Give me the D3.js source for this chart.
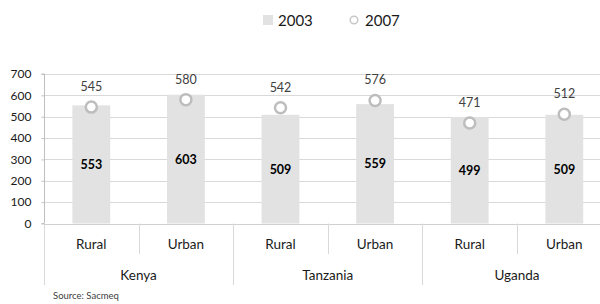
<!DOCTYPE html>
<html>
<head>
<meta charset="utf-8">
<script src="https://cdn.jsdelivr.net/npm/d3@7/dist/d3.min.js"></script>
<style>
  body { margin: 0; background: #fff; }
  svg text { font-family: Lato, 'Open Sans', sans-serif; fill: #404040; }
</style>
</head>
<body>
<div id="chart"></div>
<script>
// data
var countries = ['Kenya', 'Tanzania', 'Uganda'];
var areas = ['Rural', 'Urban'];
var values2003 = [553, 603, 509, 559, 499, 509];
var values2007 = [545, 580, 542, 576, 471, 512];
var yTicks = [0, 100, 200, 300, 400, 500, 600, 700];
var seriesNames = ['2003', '2007'];

function drawChart (id) {
  var width = 600, height = 304;
  var left = 44, zeroY = 223.5, topY = 74;
  var slot = 94.6;

  var svg = d3.select('#' + id).append('svg')
    .attr('width', width)
    .attr('height', height);

  // one entry per bar
  var rows = [];
  countries.forEach(function (c, i) {
    areas.forEach(function (a, j) {
      var k = i * areas.length + j;
      rows.push({ key: c + '|' + a, country: c, area: a, v03: values2003[k], v07: values2007[k] });
    });
  });

  var x = d3.scaleBand()
    .domain(rows.map(function (d) { return d.key; }))
    .range([left, left + slot * rows.length])
    .paddingInner(0.6)
    .paddingOuter(0.3);
  var y = d3.scaleLinear().domain([0, 700]).range([zeroY, topY]);

  // gridlines
  svg.append('g').selectAll('line')
    .data(yTicks.filter(function (t) { return t > 0; }))
    .enter().append('line')
    .attr('x1', left).attr('x2', width)
    .attr('y1', function (d) { return Math.round(y(d)) + 0.5; })
    .attr('y2', function (d) { return Math.round(y(d)) + 0.5; })
    .attr('stroke', '#d9d9d9');

  // y axis
  var yAxis = d3.axisLeft(y).tickValues(yTicks).tickSize(3).tickPadding(10);
  var gy = svg.append('g')
    .attr('transform', 'translate(' + (left + 0.5) + ',0)')
    .call(yAxis);
  gy.select('.domain').attr('stroke', '#bfbfbf').attr('d', 'M-3,' + topY + 'H0V' + zeroY + 'H-3');
  gy.selectAll('.tick line').attr('stroke', '#bfbfbf');
  gy.selectAll('.tick text')
    .style('font-size', '12px')
    .style('fill', '#1a1a1a')
    .style('font-family', 'Lato, sans-serif');

  // bars 2003
  svg.append('g').selectAll('rect')
    .data(rows)
    .enter().append('rect')
    .attr('x', function (d) { return x(d.key); })
    .attr('width', x.bandwidth())
    .attr('y', function (d) { return y(d.v03); })
    .attr('height', function (d) { return zeroY - y(d.v03); })
    .attr('fill', '#e2e2e2');

  // bar labels
  svg.append('g').selectAll('text')
    .data(rows)
    .enter().append('text')
    .attr('x', function (d) { return x(d.key) + x.bandwidth() / 2; })
    .attr('y', function (d) { return y(d.v03 / 2) + 4.5; })
    .attr('text-anchor', 'middle')
    .style('font-size', '12.5px')
    .style('font-weight', 'bold')
    .style('fill', '#000')
    .text(function (d) { return d.v03; });

  // category axis
  svg.append('line')
    .attr('x1', left).attr('x2', width)
    .attr('y1', Math.round(zeroY) + 0.5).attr('y2', Math.round(zeroY) + 0.5)
    .attr('stroke', '#d0d0d0');
  var bounds = d3.range(rows.length + 1);
  svg.append('g').selectAll('line')
    .data(bounds)
    .enter().append('line')
    .attr('x1', function (i) { return Math.round(left + i * slot) + 0.5; })
    .attr('x2', function (i) { return Math.round(left + i * slot) + 0.5; })
    .attr('y1', zeroY)
    .attr('y2', function (i) { return i % areas.length === 0 ? 285 : 254; })
    .attr('stroke', '#d9d9d9');

  svg.append('g').selectAll('text')
    .data(rows)
    .enter().append('text')
    .attr('x', function (d) { return x(d.key) + x.bandwidth() / 2; })
    .attr('y', 248.5)
    .attr('text-anchor', 'middle')
    .style('font-size', '13.5px')
    .style('fill', '#1a1a1a')
    .text(function (d) { return d.area; });

  svg.append('g').selectAll('text')
    .data(countries)
    .enter().append('text')
    .attr('x', function (c, i) { return left + (i * 2 + 1) * slot; })
    .attr('y', 280)
    .attr('text-anchor', 'middle')
    .style('font-size', '13.5px')
    .style('fill', '#1a1a1a')
    .text(function (c) { return c; });

  // 2007 markers
  svg.append('g').selectAll('circle')
    .data(rows)
    .enter().append('circle')
    .attr('cx', function (d) { return x(d.key) + x.bandwidth() / 2; })
    .attr('cy', function (d) { return y(d.v07); })
    .attr('r', 5.5)
    .attr('fill', '#fff')
    .attr('stroke', '#bdbdbd')
    .attr('stroke-width', 2.5);

  svg.append('g').selectAll('text')
    .data(rows)
    .enter().append('text')
    .attr('x', function (d) { return x(d.key) + x.bandwidth() / 2; })
    .attr('y', function (d) { return y(d.v07) - 16; })
    .attr('text-anchor', 'middle')
    .style('font-size', '12.5px')
    .text(function (d) { return d.v07; });

  // legend
  var lg = svg.append('g');
  lg.append('rect').attr('x', 263).attr('y', 15).attr('width', 10).attr('height', 10).attr('fill', '#e2e2e2');
  lg.append('text').attr('x', 278).attr('y', 25.5).style('font-size', '15px').style('fill', '#1a1a1a').text(seriesNames[0]);
  lg.append('circle').attr('cx', 354).attr('cy', 20).attr('r', 3.8).attr('fill', '#fff').attr('stroke', '#c8c8c8').attr('stroke-width', 1.5);
  lg.append('text').attr('x', 365).attr('y', 25.5).style('font-size', '15px').style('fill', '#1a1a1a').text(seriesNames[1]);

  // source
  svg.append('text')
    .attr('x', 53).attr('y', 299)
    .style('font-size', '9.5px')
    .style('fill', '#404040')
    .text('Source: Sacmeq');
}

window.addEventListener('load', function () {
  drawChart('chart');
});
</script>
</body>
</html>
